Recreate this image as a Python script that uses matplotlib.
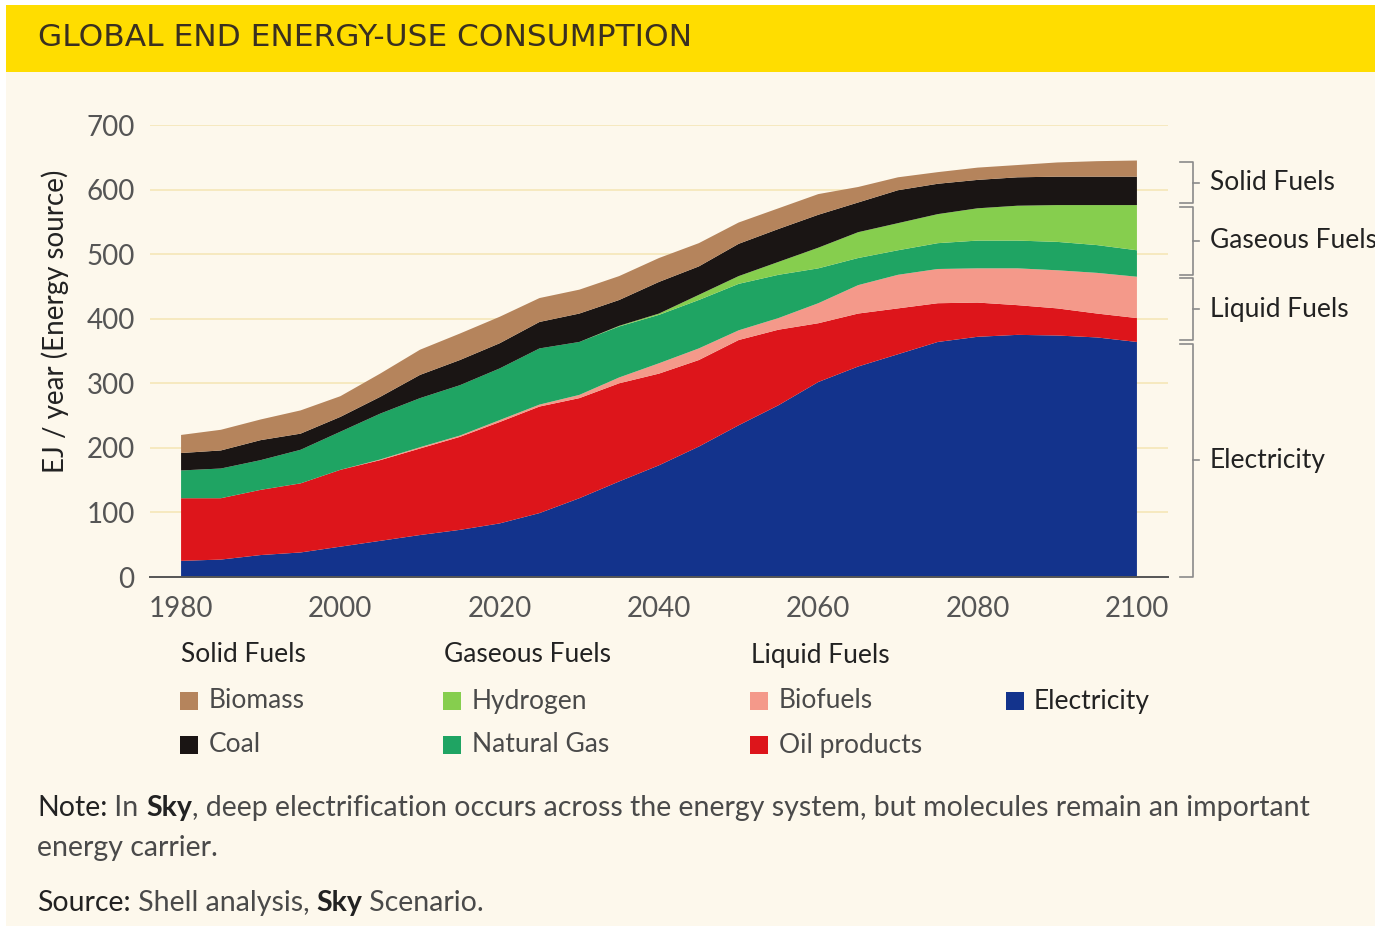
import matplotlib
matplotlib.use("Agg")
import matplotlib.pyplot as plt
from matplotlib.patches import Rectangle
from matplotlib.transforms import blended_transform_factory

# ──────────────────────────────────────────────────────────────
# DATA – EJ / year, layer thickness per series
# ──────────────────────────────────────────────────────────────
years = [1980, 1985, 1990, 1995, 2000, 2005, 2010, 2015, 2020, 2025, 2030, 2035, 2040,
         2045, 2050, 2055, 2060, 2065, 2070, 2075, 2080, 2085, 2090, 2095, 2100]

electricity = [25, 27, 34, 38, 47, 56, 65, 73, 83, 99, 122, 148, 173,
               202, 235, 266, 302, 326, 345, 364, 372, 375, 374, 371, 364]
oil_products = [97, 95, 101, 107, 119, 125, 134, 144, 157, 165, 155, 152, 142,
                134, 132, 117, 91, 82, 71, 60, 53, 46, 42, 37, 37]
biofuels = [0, 0, 0, 0, 0, 1, 2, 2, 3, 3, 5, 9, 16,
            18, 15, 18, 31, 44, 52, 53, 53, 57, 59, 63, 64]
natural_gas = [43, 46, 46, 52, 59, 71, 76, 78, 80, 87, 82, 79, 75,
               75, 72, 67, 54, 42, 38, 40, 43, 43, 44, 43, 41]
hydrogen = [0, 0, 0, 0, 0, 0, 0, 0, 0, 0, 0, 1, 2,
            8, 12, 20, 32, 40, 42, 45, 50, 54, 57, 62, 70]
coal = [27, 28, 31, 25, 23, 26, 36, 39, 39, 41, 44, 40, 49,
        44, 50, 51, 51, 46, 51, 47, 44, 44, 44, 44, 44]
biomass = [28, 32, 32, 36, 32, 36, 39, 41, 41, 37, 37, 37, 37,
           36, 33, 32, 32, 24, 20, 18, 19, 19, 22, 24, 25]

series_names = ["Electricity", "Oil products", "Biofuels", "Natural Gas",
                "Hydrogen", "Coal", "Biomass"]
series_colors = ["#13338C", "#DD151B", "#F4998A", "#1FA463",
                 "#86CE4E", "#1A1514", "#B5845C"]

groups = [("Electricity", 0, 1), ("Liquid Fuels", 1, 3),
          ("Gaseous Fuels", 3, 5), ("Solid Fuels", 5, 7)]

y_ticks = [0, 100, 200, 300, 400, 500, 600, 700]
x_ticks = [1980, 2000, 2020, 2040, 2060, 2080, 2100]

BG = "#FDF8EC"
YELLOW = "#FFDD00"
W, H = 1375, 926
FONT = "Lato"


def fx(px):
    return px / W


def fy(py):
    return 1 - py / H


def text_runs(fig, x, y, runs, size):
    """draw text pieces one after another on a line (pixel coords)"""
    r = fig.canvas.get_renderer()
    cur = fx(x)
    for s, weight, color in runs:
        t = fig.text(cur, fy(y), s, fontsize=size, fontweight=weight, color=color,
                     family=FONT, va="center", ha="left")
        cur += t.get_window_extent(r).width / W


fig = plt.figure(figsize=(W / 100, H / 100), dpi=100, facecolor="white")

# cream card and yellow title bar
fig.add_artist(Rectangle((fx(6), 0), 1 - fx(6), fy(5), transform=fig.transFigure,
                         facecolor=BG, edgecolor="none", zorder=0))
fig.add_artist(Rectangle((fx(6), fy(72)), 1 - fx(6), fy(5) - fy(72),
                         transform=fig.transFigure, facecolor=YELLOW,
                         edgecolor="none", zorder=0))
fig.text(fx(38), fy(38), "GLOBAL END ENERGY-USE CONSUMPTION", fontsize=22.5,
         family="DejaVu Sans", color="#3A3020", va="center", ha="left")

# main axes
ax = fig.add_axes([fx(150), fy(577), fx(1168) - fx(150), fy(125) - fy(577)])
ax.set_facecolor(BG)
layers = [electricity, oil_products, biofuels, natural_gas, hydrogen, coal, biomass]
ax.stackplot(years, *layers, colors=series_colors, linewidth=0, zorder=3)

ax.set_xlim(1976.1, 2103.9)
ax.set_ylim(0, 700)
ax.set_yticks(y_ticks)
ax.set_xticks(x_ticks)
ax.tick_params(axis="y", length=0, labelsize=20, labelcolor="#555555", pad=11)
ax.tick_params(axis="x", length=0, labelsize=20, labelcolor="#555555", pad=14)
for lab in ax.get_xticklabels() + ax.get_yticklabels():
    lab.set_family(FONT)
for v in y_ticks[1:]:
    ax.axhline(v, color="#F5E6B8", lw=1.2, zorder=1)
for s in ["top", "right", "left"]:
    ax.spines[s].set_visible(False)
ax.spines["bottom"].set_color("#555555")
ax.spines["bottom"].set_linewidth(1.4)
ax.spines["bottom"].set_zorder(4)

fig.text(fx(55), fy(321), "EJ / year (Energy source)", rotation=90, fontsize=20,
         family=FONT, color="#222222", va="center", ha="center")

# right-side group brackets, from the 2100 cumulative values
tr = blended_transform_factory(ax.transAxes, ax.transData)
x0, x1, x2, xt = 1.0118, 1.0246, 1.0305, 1.0413
cum = [0]
for layer in layers:
    cum.append(cum[-1] + layer[-1])
for name, a, b in groups:
    lo = cum[a] + (2.5 if a > 0 else 0)
    hi = cum[b] - 2.5
    mid = (lo + hi) / 2
    ax.plot([x0, x1, x1, x0], [lo, lo, hi, hi], transform=tr, color="#8A8A8A",
            lw=1.2, clip_on=False)
    ax.plot([x1, x2], [mid, mid], transform=tr, color="#8A8A8A", lw=1.2, clip_on=False)
    ax.text(xt, mid, name, transform=tr, fontsize=19, family=FONT,
            color="#222222", va="center", ha="left", clip_on=False)

# custom legend
legend_cols = [("Solid Fuels", 181, [6, 5]), ("Gaseous Fuels", 444, [4, 3]),
               ("Liquid Fuels", 751, [2, 1])]
for head, x, idx in legend_cols:
    fig.text(fx(x), fy(655), head, fontsize=19, family=FONT, color="#222222",
             va="center", ha="left")
    for k, i in enumerate(idx):
        yy = 701 + 44 * k
        fig.add_artist(Rectangle((fx(x - 1), fy(yy + 9)), fx(18), fy(yy - 9) - fy(yy + 9),
                                 transform=fig.transFigure, facecolor=series_colors[i],
                                 edgecolor="none"))
        fig.text(fx(x + 28), fy(yy), series_names[i], fontsize=19, family=FONT,
                 color="#4A4A4A", va="center", ha="left")
fig.add_artist(Rectangle((fx(1006), fy(710)), fx(18), fy(692) - fy(710),
                         transform=fig.transFigure, facecolor=series_colors[0],
                         edgecolor="none"))
fig.text(fx(1034), fy(701), series_names[0], fontsize=19, family=FONT,
         color="#222222", va="center", ha="left")

# note and source lines
DARK, LIGHT = "#222222", "#4A4A4A"
text_runs(fig, 37, 808, [("Note:", "normal", DARK), (" In ", "normal", LIGHT),
                         ("Sky", "bold", DARK),
                         (", deep electrification occurs across the energy system, but "
                          "molecules remain an important", "normal", LIGHT)], 20.5)
text_runs(fig, 37, 848, [("energy carrier.", "normal", LIGHT)], 20.5)
text_runs(fig, 37, 903, [("Source:", "normal", DARK), (" Shell analysis, ", "normal", LIGHT),
                         ("Sky", "bold", DARK), (" Scenario.", "normal", LIGHT)], 20.5)

fig.savefig("out.png", dpi=100, facecolor="white")
